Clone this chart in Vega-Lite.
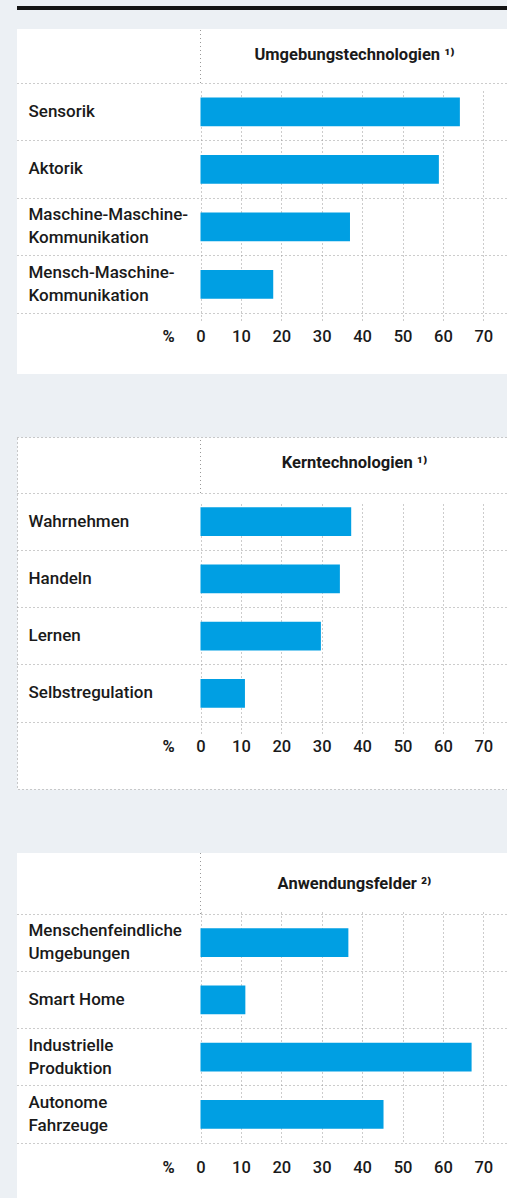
{
  "$schema": "https://vega.github.io/schema/vega-lite/v6.json",
  "background": "#ecf0f4",
  "padding": {"left": 16, "top": 6, "right": 0, "bottom": 0},
  "config": {
    "view": {"stroke": null},
    "font": "Roboto",
    "title": {"font": "Roboto", "fontSize": 16.5, "fontWeight": "bold", "color": "#1a1a1a", "anchor": "middle", "baseline": "middle", "dx": 92}
  },
  "spacing": 18,
  "vconcat": [
    {
      "width": 491,
      "height": 4,
      "view": {"fill": "#141414", "stroke": null},
      "mark": {"type": "rule", "opacity": 0},
      "encoding": {}
    },
    {
      "spacing": 62,
      "vconcat": [
        {
          "width": 491,
          "height": 345,
          "view": {"fill": "#ffffff", "stroke": null},
          "title": {"text": "Umgebungstechnologien ¹⁾", "offset": -35},
          "data": {"values": [
            {"kategorie": "Sensorik", "prozent": 64.2},
            {"kategorie": "Aktorik", "prozent": 59.0},
            {"kategorie": "Maschine-Maschine-\nKommunikation", "prozent": 37.0},
            {"kategorie": "Mensch-Maschine-\nKommunikation", "prozent": 18.0}
          ]},
          "layer": [
            {
              "mark": {"type": "bar", "color": "#009fe3"},
              "encoding": {
                "y": {"field": "kategorie", "type": "nominal", "sort": null,
                  "scale": {"range": [54, 284], "paddingInner": 0.5, "paddingOuter": 0.25},
                  "axis": {"title": null, "orient": "left", "offset": -11, "domain": false, "ticks": false, "tickSize": 0, "labelPadding": 0, "labelAlign": "left", "labelBaseline": "middle", "labelOffset": {"condition": {"test": "indexof(datum.value, '\\n') >= 0", "value": -11.5}, "value": 0}, "bandPosition": -0.5, "labelLineHeight": 23, "labelExpr": "split(datum.value, '\\n')", "labelFont": "Roboto", "labelFontSize": 17, "labelFontWeight": 500, "labelColor": "#1a1a1a", "labelLimit": 0, "grid": true, "gridColor": "#999999", "gridDash": [1, 3]}},
                "x": {"field": "prozent", "type": "quantitative",
                  "scale": {"domain": [-45.42, 76.11], "nice": false, "zero": false},
                  "axis": {"title": "%", "values": [0, 10, 20, 30, 40, 50, 60, 70], "offset": -61, "grid": true, "gridColor": "#999999", "gridDash": [1, 3], "domain": true, "domainColor": "#999999", "domainDash": [1, 3], "ticks": false, "tickSize": 0, "labelPadding": 23, "labelBaseline": "middle", "labelFont": "Roboto", "labelFontSize": 16.5, "labelFontWeight": 500, "labelColor": "#1a1a1a", "titleFont": "Roboto", "titleFontSize": 16.5, "titleFontWeight": "bold", "titleColor": "#1a1a1a", "titleX": 151, "titleY": 23, "titleBaseline": "middle", "titleAlign": "center", "titleAnchor": null}}
              }
            },
            {
              "transform": [{"filter": "datum.kategorie === 'Sensorik'"}],
              "mark": {"type": "rule", "color": "#999999", "strokeDash": [1, 3]},
              "encoding": {
                "x": {"datum": 0},
                "y": {"datum": "Sensorik", "bandPosition": -0.5},
                "y2": {"datum": "Sensorik", "bandPosition": -2.378}
              }
            }
          ]
        },
        {
          "width": 491,
          "height": 352,
          "view": {"fill": "#ffffff", "stroke": "#999999", "strokeDash": [1, 3]},
          "title": {"text": "Kerntechnologien ¹⁾", "offset": -35},
          "data": {"values": [
            {"kategorie": "Wahrnehmen", "prozent": 37.3},
            {"kategorie": "Handeln", "prozent": 34.5},
            {"kategorie": "Lernen", "prozent": 29.8},
            {"kategorie": "Selbstregulation", "prozent": 11.0}
          ]},
          "layer": [
            {
              "mark": {"type": "bar", "color": "#009fe3"},
              "encoding": {
                "y": {"field": "kategorie", "type": "nominal", "sort": null,
                  "scale": {"range": [56, 285], "paddingInner": 0.5, "paddingOuter": 0.25},
                  "axis": {"title": null, "orient": "left", "offset": -11, "domain": false, "ticks": false, "tickSize": 0, "labelPadding": 0, "labelAlign": "left", "labelBaseline": "middle", "labelOffset": {"condition": {"test": "indexof(datum.value, '\\n') >= 0", "value": -11.5}, "value": 0}, "bandPosition": -0.5, "labelLineHeight": 23, "labelExpr": "split(datum.value, '\\n')", "labelFont": "Roboto", "labelFontSize": 17, "labelFontWeight": 500, "labelColor": "#1a1a1a", "labelLimit": 0, "grid": true, "gridColor": "#999999", "gridDash": [1, 3]}},
                "x": {"field": "prozent", "type": "quantitative",
                  "scale": {"domain": [-45.42, 76.11], "nice": false, "zero": false},
                  "axis": {"title": "%", "values": [0, 10, 20, 30, 40, 50, 60, 70], "offset": -67, "grid": true, "gridColor": "#999999", "gridDash": [1, 3], "domain": true, "domainColor": "#999999", "domainDash": [1, 3], "ticks": false, "tickSize": 0, "labelPadding": 24, "labelBaseline": "middle", "labelFont": "Roboto", "labelFontSize": 16.5, "labelFontWeight": 500, "labelColor": "#1a1a1a", "titleFont": "Roboto", "titleFontSize": 16.5, "titleFontWeight": "bold", "titleColor": "#1a1a1a", "titleX": 151, "titleY": 24, "titleBaseline": "middle", "titleAlign": "center", "titleAnchor": null}}
              }
            },
            {
              "transform": [{"filter": "datum.kategorie === 'Wahrnehmen'"}],
              "mark": {"type": "rule", "color": "#999999", "strokeDash": [1, 3]},
              "encoding": {
                "x": {"datum": 0},
                "y": {"datum": "Wahrnehmen", "bandPosition": -0.5},
                "y2": {"datum": "Wahrnehmen", "bandPosition": -2.456}
              }
            }
          ]
        },
        {
          "width": 491,
          "height": 349,
          "view": {"fill": "#ffffff", "stroke": null},
          "title": {"text": "Anwendungsfelder ²⁾", "offset": -40},
          "data": {"values": [
            {"kategorie": "Menschenfeindliche\nUmgebungen", "prozent": 36.6},
            {"kategorie": "Smart Home", "prozent": 11.1},
            {"kategorie": "Industrielle\nProduktion", "prozent": 67.1},
            {"kategorie": "Autonome\nFahrzeuge", "prozent": 45.3}
          ]},
          "layer": [
            {
              "mark": {"type": "bar", "color": "#009fe3"},
              "encoding": {
                "y": {"field": "kategorie", "type": "nominal", "sort": null,
                  "scale": {"range": [61, 290], "paddingInner": 0.5, "paddingOuter": 0.25},
                  "axis": {"title": null, "orient": "left", "offset": -11, "domain": false, "ticks": false, "tickSize": 0, "labelPadding": 0, "labelAlign": "left", "labelBaseline": "middle", "labelOffset": {"condition": {"test": "indexof(datum.value, '\\n') >= 0", "value": -11.5}, "value": 0}, "bandPosition": -0.5, "labelLineHeight": 23, "labelExpr": "split(datum.value, '\\n')", "labelFont": "Roboto", "labelFontSize": 17, "labelFontWeight": 500, "labelColor": "#1a1a1a", "labelLimit": 0, "grid": true, "gridColor": "#999999", "gridDash": [1, 3]}},
                "x": {"field": "prozent", "type": "quantitative",
                  "scale": {"domain": [-45.42, 76.11], "nice": false, "zero": false},
                  "axis": {"title": "%", "values": [0, 10, 20, 30, 40, 50, 60, 70], "offset": -59, "grid": true, "gridColor": "#999999", "gridDash": [1, 3], "domain": true, "domainColor": "#999999", "domainDash": [1, 3], "ticks": false, "tickSize": 0, "labelPadding": 24, "labelBaseline": "middle", "labelFont": "Roboto", "labelFontSize": 16.5, "labelFontWeight": 500, "labelColor": "#1a1a1a", "titleFont": "Roboto", "titleFontSize": 16.5, "titleFontWeight": "bold", "titleColor": "#1a1a1a", "titleX": 151, "titleY": 24, "titleBaseline": "middle", "titleAlign": "center", "titleAnchor": null}}
              }
            },
            {
              "transform": [{"filter": "datum.kategorie === 'Smart Home'"}],
              "mark": {"type": "rule", "color": "#999999", "strokeDash": [1, 3]},
              "encoding": {
                "x": {"datum": 0},
                "y": {"datum": "Menschenfeindliche\nUmgebungen", "bandPosition": -0.5},
                "y2": {"datum": "Menschenfeindliche\nUmgebungen", "bandPosition": -2.631}
              }
            }
          ]
        }
      ]
    }
  ]
}
